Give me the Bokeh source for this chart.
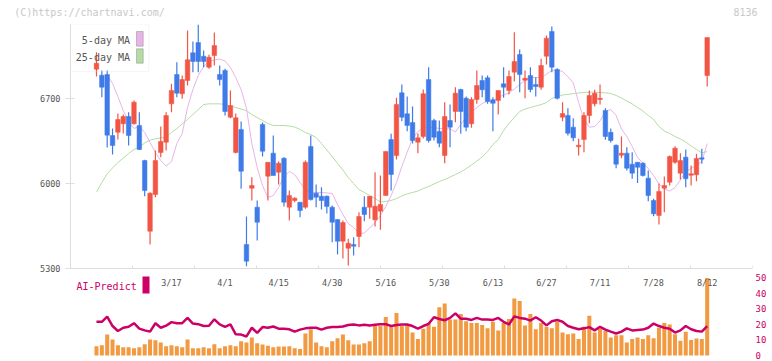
from bokeh.plotting import figure
from bokeh.models import (Range1d, FixedTicker, LinearAxis, Label, BoxAnnotation,
                          ColumnDataSource, CustomJSTickFormatter)
from bokeh.layouts import column
from bokeh.embed import file_html
from bokeh.resources import INLINE
from bokeh.core.properties import value

NAN = float("nan")

# ---------------- data ----------------
OPEN = [6941, 6892, 6898, 6395, 6422, 6492, 6552, 6492, 6478, 6189,
        5607, 5909, 6255, 6340, 6656, 6898, 6739, 6848, 7076, 7161,
        7048, 6958, 7054, 6898, 6931, 6546, 6255, 6445, 5498, 5961,
        5805, 6486, 6060, 6250, 6093, 6208, 5805, 5860, 5846, 5805,
        6305, 5920, 5895, 5895, 5805, 5704, 5525, 5467, 5498, 5564,
        5805, 5805, 5701, 5772, 5901, 6362, 6231, 6747, 6574, 6502,
        6340, 6387, 6856, 6519, 6428, 6231, 6519, 6593, 6774, 6702,
        6492, 6692, 6848, 6870, 6689, 6683, 6821, 6766, 6917, 7062,
        6851, 6889, 6815, 6793, 7048, 7252, 6939, 6546, 6560, 6464,
        6302, 6362, 6560, 6656, 6692, 6601, 6422, 6315, 6233, 6250,
        6159, 6175, 6167, 6044, 5860, 5737, 5961, 6011, 6175, 6085,
        6217, 6068, 6072, 6212, 6889]
HIGH = [7081, 6931, 6931, 6453, 6576, 6568, 6587, 6683, 6587, 6195,
        5928, 6272, 6469, 6587, 6821, 6999, 6889, 7260, 7169, 7309,
        7095, 7060, 7244, 6972, 6945, 6766, 6576, 6511, 5728, 6052,
        5860, 6502, 6175, 6395, 6181, 6217, 5942, 5887, 5846, 6189,
        6395, 5992, 5970, 5901, 5819, 5704, 5695, 5545, 5558, 5764,
        5895, 5895, 6093, 6066, 6264, 6409, 6706, 6815, 6716, 6634,
        6412, 6774, 6958, 6533, 6519, 6670, 6651, 6793, 6780, 6716,
        6711, 6931, 6889, 6889, 6711, 6766, 6958, 6931, 7246, 7104,
        6931, 6958, 6875, 7027, 7219, 7293, 6950, 6670, 6620, 6538,
        6368, 6587, 6766, 6772, 6815, 6620, 6453, 6321, 6387, 6299,
        6258, 6175, 6175, 6107, 5874, 6000, 6057, 6231, 6307, 6250,
        6280, 6148, 6245, 6286, 7202]
LOW = [6881, 6711, 6296, 6239, 6362, 6412, 6313, 6486, 6275, 5895,
       5498, 5887, 6217, 6272, 6587, 6711, 6698, 6807, 6917, 6917,
       6958, 6945, 6972, 6807, 6560, 6538, 6249, 5956, 5319, 5860,
       5531, 6222, 5860, 6066, 5992, 5811, 5695, 5846, 5722, 5792,
       5860, 5805, 5786, 5753, 5517, 5415, 5382, 5325, 5407, 5475,
       5690, 5709, 5646, 5619, 5901, 5942, 6198, 6513, 6431, 6329,
       6250, 6371, 6338, 6354, 6299, 6167, 6299, 6505, 6409, 6431,
       6459, 6656, 6711, 6656, 6431, 6568, 6706, 6733, 6840, 6752,
       6702, 6752, 6716, 6772, 6980, 6917, 6692, 6513, 6395, 6348,
       6231, 6258, 6497, 6634, 6651, 6360, 6338, 6126, 6208, 6107,
       6039, 6005, 6058, 5854, 5731, 5662, 5764, 5984, 6162, 6033,
       5970, 5984, 6019, 6162, 6799]
CLOSE = [6991, 6793, 6398, 6313, 6527, 6552, 6395, 6670, 6280, 5942,
         5920, 6189, 6346, 6560, 6766, 6744, 6856, 7019, 7005, 7005,
         7005, 7040, 7136, 6856, 6593, 6642, 6541, 6101, 5360, 5984,
         5681, 6266, 6175, 6066, 6167, 5846, 5901, 5879, 5778, 6175,
         5868, 5887, 5860, 5811, 5681, 5525, 5679, 5508, 5484, 5728,
         5745, 5895, 5813, 5827, 6264, 6074, 6651, 6546, 6478, 6354,
         6376, 6739, 6354, 6381, 6332, 6552, 6464, 6744, 6593, 6464,
         6692, 6807, 6772, 6675, 6661, 6766, 6793, 6881, 7005, 6898,
         6867, 6774, 6799, 6972, 7197, 6958, 6702, 6576, 6414, 6376,
         6315, 6560, 6725, 6744, 6702, 6387, 6354, 6159, 6250, 6126,
         6085, 6134, 6066, 5901, 5751, 5934, 5984, 6222, 6291, 6189,
         6039, 6080, 6206, 6200, 7202]
MA5 = [NAN, NAN, 6898, 6823, 6716, 6601, 6510, 6453, 6469, 6420,
       6338, 6255, 6189, 6144, 6181, 6329, 6412, 6626, 6774, 6889,
       6963, 7005, 7017, 7025, 7009, 6955, 6873, 6774, 6618, 6329,
       6132, 5983, 5885, 5901, 5967, 6058, 6099, 6074, 6008, 5950,
       5920, 5926, 5926, 5922, 5918, 5827, 5745, 5670, 5638, 5588,
       5592, 5633, 5679, 5736, 5810, 5901, 6008, 6140, 6259, 6370,
       6428, 6453, 6461, 6461, 6453, 6450, 6450, 6424, 6486, 6543,
       6585, 6626, 6659, 6677, 6682, 6708, 6729, 6745, 6778, 6815,
       6848, 6875, 6873, 6873, 6900, 6931, 6936, 6922, 6881, 6828,
       6667, 6527, 6464, 6469, 6515, 6597, 6609, 6560, 6449, 6387,
       6305, 6214, 6169, 6123, 6066, 5996, 5956, 5938, 5967, 6029,
       6099, 6123, 6152, 6181, 6329]
MA25 = [5928, 6008, 6080, 6128, 6173, 6210, 6247, 6280, 6305, 6333,
        6358, 6368, 6376, 6383, 6420, 6453, 6490, 6527, 6568, 6609,
        6650, 6656, 6656, 6656, 6650, 6638, 6626, 6613, 6601, 6568,
        6543, 6519, 6494, 6478, 6478, 6478, 6473, 6465, 6445, 6420,
        6403, 6379, 6329, 6276, 6222, 6165, 6111, 6049, 6000, 5950,
        5926, 5901, 5876, 5848, 5852, 5860, 5876, 5897, 5915, 5926,
        5938, 5959, 5975, 5996, 6016, 6033, 6053, 6074, 6095, 6123,
        6152, 6185, 6218, 6263, 6321, 6362, 6436, 6494, 6543, 6593,
        6613, 6626, 6638, 6650, 6667, 6700, 6716, 6729, 6733, 6741,
        6745, 6749, 6752, 6752, 6749, 6747, 6741, 6725, 6704, 6679,
        6655, 6626, 6597, 6560, 6527, 6469, 6432, 6412, 6387, 6366,
        6342, 6309, 6280, 6251, 6263]
VOLUME = [5.9, 6.6, 13.4, 10.3, 6.6, 5.3, 5.3, 4.7, 5.3, 7.2,
          10.3, 9.7, 8.4, 5.9, 6.6, 5.9, 5.3, 10.3, 4.7, 4.7,
          5.3, 4.7, 7.2, 4.7, 5.9, 6.6, 5.9, 9.1, 8.4, 11.6,
          7.8, 7.0, 6.3, 5.3, 5.7, 5.7, 5.9, 4.7, 4.1, 14.1,
          16.8, 8.4, 5.9, 5.3, 9.1, 11.1, 13.4, 9.7, 7.0, 7.0,
          7.8, 9.1, 18.9, 18.9, 24.7, 18.4, 27.2, 18.9, 19.5, 14.7,
          10.5, 17.2, 20.9, 18.4, 30.9, 33.4, 23.0, 23.0, 26.6, 22.0,
          20.9, 20.9, 19.5, 17.4, 21.6, 16.1, 20.9, 23.4, 36.6, 34.9,
          19.3, 26.6, 16.8, 20.9, 18.4, 17.4, 21.6, 14.7, 13.6, 14.1,
          10.5, 18.4, 25.5, 14.7, 17.2, 15.7, 11.6, 13.0, 13.0, 8.4,
          10.5, 11.6, 10.5, 13.0, 11.1, 17.8, 20.9, 19.9, 13.6, 9.5,
          15.3, 9.9, 10.9, 10.5, 49.7]
AI_PREDICT = [21.6, 21.6, 24.9, 18.9, 15.7, 17.8, 18.4, 20.7, 17.2, 16.1,
              15.3, 20.7, 17.8, 19.1, 21.4, 20.7, 20.7, 24.1, 20.5, 20.1,
              18.9, 19.1, 23.2, 19.9, 18.4, 19.9, 13.6, 13.4, 12.2, 17.8,
              14.5, 18.2, 17.8, 18.6, 17.2, 17.2, 16.8, 15.3, 16.6, 17.4,
              17.8, 17.8, 16.6, 17.8, 18.2, 18.2, 18.6, 19.5, 19.9, 19.3,
              19.7, 19.3, 19.7, 20.1, 20.1, 18.9, 19.5, 19.9, 19.9, 18.9,
              17.2, 18.9, 20.3, 24.5, 23.4, 22.6, 24.1, 27.0, 23.6, 23.6,
              22.8, 24.1, 23.0, 23.0, 22.8, 24.1, 21.6, 19.9, 25.1, 24.1,
              23.6, 22.4, 24.5, 22.4, 19.3, 22.0, 22.8, 21.6, 18.9, 17.8,
              16.8, 17.4, 18.2, 16.1, 18.4, 16.6, 15.3, 14.1, 15.3, 17.4,
              16.1, 16.4, 16.6, 17.8, 20.5, 18.9, 17.8, 17.2, 14.7, 16.1,
              18.9, 16.8, 15.7, 15.3, 18.9]
DATE_LABELS = ["3/17", "4/1", "4/15", "4/30", "5/16", "5/30", "6/13", "6/27", "7/11", "7/28", "8/12"]
DATE_LABEL_INDEX = [14, 24, 34, 44, 54, 64, 74, 84, 94, 104, 114]
PRICE_TICKS = [5300, 6000, 6700]
PREDICT_TICKS = [0, 10, 20, 30, 40, 50]
HEADER_TEXTS = ["(C)https://chartnavi.com/", "8136"]

# ---------------- styling / layout ----------------
RED = "#f25544"
BLUE = "#3f7be8"
PINK = "#e8b4e8"
GREEN = "#b4dca4"
ORANGE = "#f29a42"
CRIMSON = "#cc0066"
AXIS_GRAY = "#dddddd"
TEXT_GRAY = "#555555"
LIGHT_GRAY = "#c8c8c8"
MONO = "DejaVu Sans Mono"

LEFT, RIGHT = 70, 752            # frame edges (px)
TOP, BOTTOM = 24, 268            # main frame edges (px)
FRAME_W = RIGHT - LEFT
MAIN_H = BOTTOM - TOP
GAP = 5                          # room below main frame for the lowest tick label
BOT_TOP = BOTTOM + GAP
BOT_H = 361 - BOT_TOP
X0, X1 = -4.85, 122.46           # index range of the frame
PX_PER_YEN = 170.0 / 1400.0
Y0 = 5300
Y1 = Y0 + MAIN_H / PX_PER_YEN

def ix(px):
    """page x (px) -> index coordinate"""
    return X0 + (px - LEFT) / FRAME_W * (X1 - X0)

def pr(py):
    """page y (px) -> price coordinate"""
    return Y0 + (BOTTOM - py) / PX_PER_YEN

# bottom panel: 50 at page y 277, 0 at page y 355
FIFTY_PAGE_Y, ZERO_PAGE_Y = 277, 355
B_PX = (ZERO_PAGE_Y - FIFTY_PAGE_Y) / 50.0
ZERO_PY = ZERO_PAGE_Y - BOT_TOP
BY0 = (ZERO_PY - BOT_H) / B_PX
BY1 = ZERO_PY / B_PX

def bv(py):
    """page y (px) -> bottom-panel value"""
    return (ZERO_PY - (py - BOT_TOP)) / B_PX

n = len(CLOSE)
idx = list(range(n))
colors = [RED if c >= o else BLUE for o, c in zip(OPEN, CLOSE)]
src = ColumnDataSource(dict(
    x=idx, o=OPEN, h=HIGH, l=LOW, c=CLOSE,
    top=[max(o, c) for o, c in zip(OPEN, CLOSE)],
    bot=[min(o, c) for o, c in zip(OPEN, CLOSE)],
    color=colors, ma5=MA5, ma25=MA25, vol=VOLUME, ai=AI_PREDICT))

xr = Range1d(X0, X1)

# ---------------- main price panel ----------------
p = figure(frame_width=FRAME_W, frame_height=MAIN_H, x_range=xr, y_range=Range1d(Y0, Y1),
           output_backend="svg", toolbar_location=None,
           min_border_left=LEFT, min_border_right=772 - RIGHT,
           min_border_top=TOP, min_border_bottom=GAP)
p.outline_line_color = None
p.xgrid.visible = False
p.ygrid.visible = False
p.background_fill_color = "white"
p.border_fill_color = "white"

xa = p.xaxis[0]
xa.ticker = FixedTicker(ticks=[])
xa.axis_line_color = AXIS_GRAY
xa.major_tick_line_color = None
xa.minor_tick_line_color = None

ya = p.yaxis[0]
ya.ticker = FixedTicker(ticks=PRICE_TICKS)
ya.axis_line_color = AXIS_GRAY
ya.major_tick_line_color = AXIS_GRAY
ya.minor_tick_line_color = None
ya.major_tick_in = 4
ya.major_tick_out = 5
ya.major_label_standoff = 5
ya.major_label_text_font = MONO
ya.major_label_text_font_size = "8.5px"
ya.major_label_text_color = TEXT_GRAY

# header texts (watermark + code), carried by an axis above the frame
ha = LinearAxis(ticker=FixedTicker(ticks=[ix(89), ix(745)]),
                formatter=CustomJSTickFormatter(args=dict(names=HEADER_TEXTS),
                                                code="return names[index];"))
ha.axis_line_color = None
ha.major_tick_line_color = None
ha.minor_tick_line_color = None
ha.major_tick_out = 0
ha.major_tick_in = 0
ha.major_label_standoff = 7
ha.major_label_text_font = MONO
ha.major_label_text_font_size = "10px"
ha.major_label_text_color = LIGHT_GRAY
p.add_layout(ha, "above")

# evenly spaced tick marks on the bottom edge, pointing inward
step = (X1 - X0) / 11.0
tick_x = [X0 + k * step for k in range(12)]
p.segment(x0=tick_x, y0=[Y0] * 12, x1=tick_x, y1=[pr(BOTTOM - 3)] * 12,
          line_color=AXIS_GRAY, line_width=1)

p.line("x", "ma25", source=src, line_color=GREEN, line_width=1)
p.line("x", "ma5", source=src, line_color=PINK, line_width=1)
p.segment(x0="x", y0="l", x1="x", y1="h", source=src, line_color="color", line_width=1.2)
p.vbar(x="x", width=0.85, top="top", bottom="bot", source=src,
       fill_color="color", line_color="color", line_width=0.5)

# legend (text left of swatch, as in the original)
p.add_layout(BoxAnnotation(left=X0, right=ix(148.3), top=pr(24), bottom=pr(71),
                           fill_alpha=0, line_color=AXIS_GRAY, line_width=1))
for label, yc, ytop, ybot, col in [("5-day MA", 40.3, 31, 45.7, PINK),
                                   ("25-day MA", 57.0, 48.3, 62.7, GREEN)]:
    p.add_layout(Label(x=ix(129.5), y=pr(yc), text=label, text_align="right",
                       text_baseline="middle", text_font=MONO, text_font_size="10px",
                       text_color=TEXT_GRAY))
    p.add_layout(BoxAnnotation(left=ix(136), right=ix(142.7), top=pr(ytop), bottom=pr(ybot),
                               fill_color=col, fill_alpha=1, line_color="#555555", line_width=1))

# ---------------- bottom AI-Predict panel ----------------
q = figure(frame_width=FRAME_W, frame_height=BOT_H, x_range=xr, y_range=Range1d(BY0, BY1),
           output_backend="svg", toolbar_location=None,
           x_axis_location=None, y_axis_location=None,
           min_border_left=LEFT, min_border_right=772 - RIGHT,
           min_border_top=0, min_border_bottom=0)
q.outline_line_color = None
q.xgrid.visible = False
q.ygrid.visible = False

ra = LinearAxis(ticker=FixedTicker(ticks=PREDICT_TICKS))
ra.axis_line_color = None
ra.major_tick_line_color = None
ra.minor_tick_line_color = None
ra.major_tick_out = 0
ra.major_tick_in = 0
ra.major_label_standoff = 3
ra.major_label_text_font = MONO
ra.major_label_text_font_size = "9px"
ra.major_label_text_color = CRIMSON
q.add_layout(ra, "right")

q.vbar(x="x", width=0.75, top="vol", bottom=0, source=src, fill_color=ORANGE, line_color=None)
q.line("x", "ai", source=src, line_color=CRIMSON, line_width=2.5)

q.text(x=DATE_LABEL_INDEX, y=[bv(282)] * len(DATE_LABELS), text=DATE_LABELS,
       text_align="center", text_baseline="middle", text_font=value(MONO),
       text_font_size="8.5px", text_color=TEXT_GRAY)
q.add_layout(Label(x=ix(76), y=bv(286), text="AI-Predict", text_align="left",
                   text_baseline="middle", text_font=MONO, text_font_size="10px",
                   text_color=CRIMSON))
q.add_layout(BoxAnnotation(left=ix(142), right=ix(149), top=bv(276), bottom=bv(293),
                           fill_color=CRIMSON, fill_alpha=1, line_color=None))

layout = column(p, q, spacing=0)
open("out.html", "w").write(file_html(layout, INLINE))
